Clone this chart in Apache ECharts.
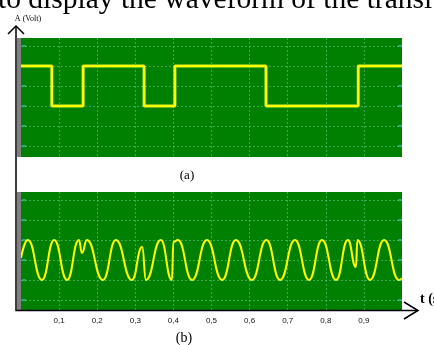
<!DOCTYPE html>
<html>
<head>
    <meta charset="utf-8">
    <title>Square wave and PSK signal</title>
    <script src="https://cdn.jsdelivr.net/npm/echarts@6/dist/echarts.min.js"></script>
    <style>
        html, body { margin: 0; padding: 0; background: #fff; overflow: hidden; }
    </style>
</head>
<body>
    <div id="main" style="width: 434px;height:345px;"></div>

    <script type="text/javascript">
        // x axis tick labels (comma decimals as in the figure)
        var tickLabels = ['0,1', '0,2', '0,3', '0,4', '0,5', '0,6', '0,7', '0,8', '0,9'];

        // (a) binary data signal: time of each change and level after it
        var squareTimes = [0, 0.081, 0.163, 0.323, 0.404, 0.643, 0.885, 1.0];
        var squareLevels = [1, -1, 1, -1, 1, -1, 1, 1];

        // (b) modulated carrier: peaks, troughs and glitches
        var pskTimes = [0, 0.018, 0.055, 0.087, 0.121, 0.152, 0.160, 0.173,
            0.215, 0.249, 0.291, 0.318, 0.328, 0.367, 0.396, 0.400, 0.412, 0.449,
            0.488, 0.528, 0.564, 0.606, 0.644, 0.680, 0.719, 0.756, 0.790, 0.827,
            0.858, 0.879, 0.883, 0.916, 0.953, 0.992, 1.0];
        var pskValues = [0.1, 1, -1, 1, -1, 1, 0.35, 1,
            -1, 1, -1, 0.65, -1, 1, -1, 0.9, 1, -1,
            1, -1, 1, -1, 1, -1, 1, -1, 1, -1,
            1, -0.35, 1, -1, 1, -1, -0.9];

        // scope graticule levels for each screen
        var gridLevelsA = [2, 1, 0, -1, -2, -3];
        var gridLevelsB = [3, 2, 1, 0, -1, -2];

        var green = '#008000';
        var trace = '#ffff00';
        var dotted = 'rgba(110, 200, 150, 0.55)';

        function pairs(xs, ys) {
            return xs.map(function (x, i) { return [x, ys[i]]; });
        }

        function gridLines(levels) {
            return {
                silent: true,
                symbol: 'none',
                label: { show: false },
                lineStyle: { color: dotted, type: [2, 2], width: 1 },
                data: levels.map(function (v) { return { yAxis: v }; })
            };
        }

        // small cyan marks at both edges of the screen
        function edgeMarks(levels) {
            var out = [];
            levels.forEach(function (v) {
                out.push({ value: [0, v], symbolOffset: [3, 0] });
                out.push({ value: [1, v], symbolOffset: [-2, 0] });
            });
            return out;
        }

        var dom = document.getElementById('main');
        var myChart = echarts.init(dom, null, { renderer: 'canvas' });

        var xAxisBase = {
            type: 'value',
            min: 0,
            max: 1,
            interval: 0.1,
            axisLine: { show: false },
            axisTick: { show: false },
            splitLine: {
                show: true,
                showMinLine: false,
                showMaxLine: false,
                lineStyle: { color: dotted, type: [2, 2], width: 1 }
            }
        };

        var option = {
            animation: false,
            grid: [
                { left: 21, top: 38, width: 381, height: 119, show: true, backgroundColor: green, borderWidth: 0 },
                { left: 21, top: 192, width: 381, height: 118, show: true, backgroundColor: green, borderWidth: 0 }
            ],
            xAxis: [
                Object.assign({}, xAxisBase, { gridIndex: 0, axisLabel: { show: false } }),
                Object.assign({}, xAxisBase, {
                    gridIndex: 1,
                    axisLabel: {
                        show: true,
                        margin: 7,
                        fontSize: 8,
                        fontFamily: 'Liberation Sans',
                        color: '#111',
                        formatter: function (value) {
                            var i = Math.round(value * 10);
                            return (i >= 1 && i <= 9) ? tickLabels[i - 1] : '';
                        }
                    }
                })
            ],
            yAxis: [
                { type: 'value', gridIndex: 0, min: -3.55, max: 2.4, show: false },
                { type: 'value', gridIndex: 1, min: -2.5, max: 3.4, show: false }
            ],
            series: [
                {
                    name: 'data',
                    type: 'line',
                    xAxisIndex: 0,
                    yAxisIndex: 0,
                    step: 'end',
                    symbol: 'none',
                    lineStyle: { color: trace, width: 2.5, shadowColor: 'rgba(255,255,160,0.8)', shadowBlur: 1 },
                    data: pairs(squareTimes, squareLevels),
                    markLine: gridLines(gridLevelsA),
                    z: 5
                },
                {
                    name: 'psk',
                    type: 'line',
                    xAxisIndex: 1,
                    yAxisIndex: 1,
                    smooth: 0.5,
                    smoothMonotone: 'x',
                    symbol: 'none',
                    lineStyle: { color: trace, width: 2 },
                    data: pairs(pskTimes, pskValues),
                    markLine: gridLines(gridLevelsB),
                    z: 5
                },
                {
                    type: 'scatter',
                    xAxisIndex: 0,
                    yAxisIndex: 0,
                    symbol: 'rect',
                    symbolSize: [4, 1.5],
                    itemStyle: { color: '#40c8c8' },
                    silent: true,
                    data: edgeMarks(gridLevelsA)
                },
                {
                    type: 'scatter',
                    xAxisIndex: 1,
                    yAxisIndex: 1,
                    symbol: 'rect',
                    symbolSize: [4, 1.5],
                    itemStyle: { color: '#40c8c8' },
                    silent: true,
                    data: edgeMarks(gridLevelsB)
                }
            ],
            graphic: [
                // grey strip on the left of each scope screen
                { type: 'rect', shape: { x: 17, y: 38, width: 4, height: 119 }, style: { fill: '#808080' }, z: 50 },
                { type: 'rect', shape: { x: 17, y: 192, width: 4, height: 118 }, style: { fill: '#808080' }, z: 50 },
                // axes with open arrow heads
                { type: 'polyline', shape: { points: [[16, 26], [16, 310.5], [418, 310.5]] }, style: { stroke: '#000', lineWidth: 1.5, fill: null }, z: 100 },
                { type: 'polyline', shape: { points: [[8, 34], [16, 26], [24, 34]] }, style: { stroke: '#000', lineWidth: 1.5, fill: null }, z: 100 },
                { type: 'polyline', shape: { points: [[404, 302], [418, 310.5], [404, 319]] }, style: { stroke: '#000', lineWidth: 1.5, fill: null }, z: 100 },
                // texts
                { type: 'text', x: -2, y: 0, z: 100, style: { text: 'to display the waveform of the transi', font: '29.5px "Liberation Serif"', fill: '#000', align: 'left', verticalAlign: 'middle' } },
                { type: 'text', x: 28, y: 19, z: 100, style: { text: 'A (Volt)', font: '8px "Liberation Serif"', fill: '#000', align: 'center', verticalAlign: 'middle' } },
                { type: 'text', x: 187, y: 176, z: 100, style: { text: '(a)', font: '13px "Liberation Serif"', fill: '#000', align: 'center', verticalAlign: 'middle' } },
                { type: 'text', x: 184, y: 338, z: 100, style: { text: '(b)', font: '14px "Liberation Serif"', fill: '#000', align: 'center', verticalAlign: 'middle' } },
                { type: 'text', x: 420, y: 299, z: 100, style: { text: 't (s)', font: 'bold 14px "Liberation Serif"', fill: '#000', align: 'left', verticalAlign: 'middle' } }
            ]
        };

        if (option && typeof option === 'object') {
            myChart.setOption(option, true);
        }
    </script>
</body>
</html>
